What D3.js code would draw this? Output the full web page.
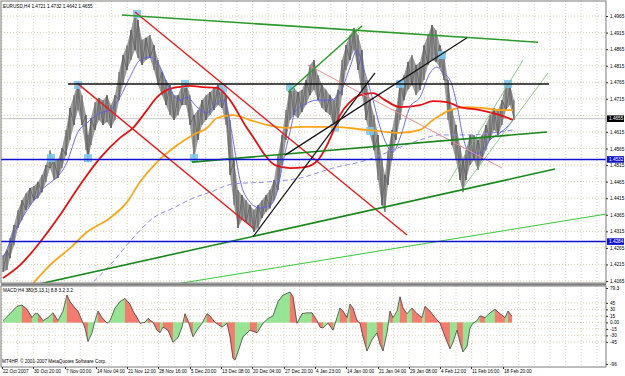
<!DOCTYPE html>
<html>
<head>
<meta charset="utf-8">
<script src="https://cdnjs.cloudflare.com/ajax/libs/d3/7.8.5/d3.min.js"></script>
<style>
body { margin: 0; background: #fff; }
svg { display: block; font-family: "Liberation Sans", Arial, sans-serif; }
</style>
</head>
<body>
<svg id="chart" width="625" height="376"></svg>
<script>
// EURUSD H4 chart, bar numbers are counted from the left edge of the chart
const priceBars = [
	3, 7, 10, 14, 18, 22, 26, 30, 34, 38,
	42, 46, 50, 54, 58, 62, 66, 70, 74, 78,
	82, 86, 88, 91, 95, 99, 103, 107, 111, 115,
	119, 123, 127, 131, 135, 138, 142, 146, 150, 154,
	158, 162, 166, 170, 174, 178, 182, 186, 190, 194,
	198, 202, 206, 210, 214, 218, 222, 226, 230, 234,
	238, 242, 246, 250, 254, 258, 262, 266, 270, 274,
	278, 282, 286, 290, 294, 298, 302, 306, 310, 314,
	318, 322, 326, 330, 334, 338, 342, 346, 350, 354,
	358, 362, 366, 370, 374, 378, 382, 385, 388, 392,
	396, 400, 404, 408, 412, 416, 420, 424, 428, 432,
	436, 440, 444, 448, 452, 456, 460, 463, 466, 470,
	474, 478, 482, 486, 490, 494, 498, 502, 506, 510,
	514];
const priceHigh = [
	1.4243, 1.4258, 1.4295, 1.4334, 1.4379, 1.4409, 1.4430, 1.4446, 1.4452, 1.4464,
	1.4485, 1.4515, 1.4560, 1.4530, 1.4530, 1.4566, 1.4621, 1.4687, 1.4726, 1.4766,
	1.4726, 1.4666, 1.4606, 1.4657, 1.4705, 1.4717, 1.4711, 1.4726, 1.4696, 1.4726,
	1.4796, 1.4847, 1.4877, 1.4923, 1.4977, 1.4953, 1.4893, 1.4899, 1.4908, 1.4877,
	1.4832, 1.4796, 1.4772, 1.4757, 1.4726, 1.4726, 1.4757, 1.4766, 1.4726, 1.4666,
	1.4681, 1.4711, 1.4726, 1.4735, 1.4748, 1.4757, 1.4754, 1.4726, 1.4651, 1.4530,
	1.4440, 1.4424, 1.4409, 1.4394, 1.4379, 1.4394, 1.4409, 1.4424, 1.4440, 1.4470,
	1.4545, 1.4606, 1.4681, 1.4757, 1.4748, 1.4735, 1.4742, 1.4772, 1.4817, 1.4832,
	1.4787, 1.4757, 1.4742, 1.4726, 1.4711, 1.4742, 1.4832, 1.4877, 1.4908, 1.4929,
	1.4908, 1.4862, 1.4772, 1.4711, 1.4666, 1.4606, 1.4530, 1.4485, 1.4560, 1.4621,
	1.4681, 1.4766, 1.4787, 1.4826, 1.4847, 1.4817, 1.4826, 1.4877, 1.4908, 1.4938,
	1.4923, 1.4877, 1.4847, 1.4772, 1.4681, 1.4636, 1.4575, 1.4530, 1.4560, 1.4606,
	1.4606, 1.4591, 1.4606, 1.4636, 1.4666, 1.4687, 1.4681, 1.4711, 1.4766, 1.4757,
	1.4711];
const priceLow = [
	1.4192, 1.4198, 1.4234, 1.4273, 1.4325, 1.4349, 1.4379, 1.4394, 1.4409, 1.4415,
	1.4433, 1.4464, 1.4506, 1.4470, 1.4476, 1.4506, 1.4545, 1.4591, 1.4636, 1.4681,
	1.4636, 1.4560, 1.4524, 1.4575, 1.4621, 1.4651, 1.4636, 1.4645, 1.4627, 1.4651,
	1.4711, 1.4757, 1.4802, 1.4832, 1.4862, 1.4838, 1.4817, 1.4832, 1.4838, 1.4802,
	1.4757, 1.4726, 1.4696, 1.4666, 1.4651, 1.4666, 1.4696, 1.4696, 1.4636, 1.4530,
	1.4591, 1.4636, 1.4651, 1.4666, 1.4681, 1.4696, 1.4687, 1.4636, 1.4485, 1.4394,
	1.4325, 1.4349, 1.4343, 1.4334, 1.4313, 1.4325, 1.4355, 1.4373, 1.4385, 1.4409,
	1.4440, 1.4515, 1.4591, 1.4651, 1.4666, 1.4657, 1.4675, 1.4696, 1.4726, 1.4742,
	1.4711, 1.4687, 1.4675, 1.4666, 1.4627, 1.4636, 1.4726, 1.4802, 1.4832, 1.4862,
	1.4802, 1.4726, 1.4651, 1.4606, 1.4560, 1.4470, 1.4394, 1.4373, 1.4455, 1.4530,
	1.4591, 1.4651, 1.4711, 1.4742, 1.4757, 1.4726, 1.4742, 1.4772, 1.4817, 1.4832,
	1.4826, 1.4808, 1.4772, 1.4651, 1.4575, 1.4530, 1.4470, 1.4433, 1.4470, 1.4515,
	1.4530, 1.4500, 1.4530, 1.4560, 1.4591, 1.4621, 1.4606, 1.4636, 1.4681, 1.4696,
	1.4651];

// moving averages
const fastMaBars = [3, 20, 40, 67, 78, 87, 100, 110, 120, 130, 140, 150, 160, 170, 180, 187, 197, 207, 213, 223, 228, 233, 240, 250, 260, 270, 277, 283, 290, 295, 307, 317, 330, 340, 350, 357, 363, 373, 380, 387, 393, 400, 410, 420, 430, 437, 443, 450, 457, 463, 470, 480, 490, 500, 507, 513];
const fastMaVals = [1.4234, 1.4343, 1.4433, 1.4524, 1.4615, 1.4642, 1.4672, 1.4681, 1.4720, 1.4781, 1.4832, 1.4841, 1.4811, 1.4742, 1.4711, 1.4720, 1.4690, 1.4672, 1.4690, 1.4711, 1.4675, 1.4591, 1.4470, 1.4403, 1.4385, 1.4394, 1.4433, 1.4524, 1.4615, 1.4675, 1.4702, 1.4711, 1.4711, 1.4732, 1.4811, 1.4862, 1.4811, 1.4711, 1.4630, 1.4575, 1.4554, 1.4597, 1.4690, 1.4720, 1.4793, 1.4811, 1.4793, 1.4772, 1.4696, 1.4600, 1.4551, 1.4551, 1.4591, 1.4612, 1.4630, 1.4651];
const redMaBars = [3, 20, 40, 60, 80, 100, 120, 133, 147, 157, 167, 180, 190, 200, 217, 230, 245, 255, 265, 275, 290, 305, 318, 327, 333, 340, 350, 360, 373, 385, 400, 420, 433, 447, 460, 480, 500, 513];
const redMaVals = [1.4174, 1.4213, 1.4282, 1.4364, 1.4455, 1.4536, 1.4597, 1.4627, 1.4681, 1.4720, 1.4742, 1.4751, 1.4754, 1.4751, 1.4748, 1.4711, 1.4636, 1.4591, 1.4545, 1.4515, 1.4506, 1.4509, 1.4530, 1.4575, 1.4615, 1.4666, 1.4705, 1.4726, 1.4732, 1.4711, 1.4690, 1.4696, 1.4708, 1.4705, 1.4690, 1.4681, 1.4666, 1.4651];
const orangeMaBars = [30, 50, 70, 87, 110, 127, 140, 157, 177, 193, 207, 217, 233, 250, 267, 287, 300, 333, 367, 400, 420, 433, 450, 467, 483, 500, 513];
const orangeMaVals = [1.4147, 1.4213, 1.4264, 1.4313, 1.4355, 1.4403, 1.4464, 1.4524, 1.4575, 1.4606, 1.4627, 1.4657, 1.4666, 1.4651, 1.4636, 1.4627, 1.4630, 1.4630, 1.4621, 1.4612, 1.4621, 1.4651, 1.4681, 1.4690, 1.4687, 1.4681, 1.4681];
const slowMaBars = [88, 110, 133, 153, 173, 193, 210, 233, 267, 300, 333, 367, 400, 420, 440, 467, 500, 513];
const slowMaVals = [1.4147, 1.4213, 1.4295, 1.4355, 1.4385, 1.4415, 1.4433, 1.4458, 1.4464, 1.4476, 1.4506, 1.4530, 1.4569, 1.4591, 1.4606, 1.4606, 1.4615, 1.4621];

// drawn objects: [bar, price] end points
const topLine = [[122, 1.4968], [538, 1.4886]];
const resistLine = [[68, 1.4760], [549, 1.4760]];
const redDown1 = [[78, 1.4760], [253, 1.4325]];
const redDown2 = [[135, 1.4977], [407, 1.4304]];
const salmonLine = [[308, 1.4817], [502, 1.4506]];
const greenShort = [[288, 1.4735], [362, 1.4935]];
const blackUp1 = [[253, 1.4298], [375, 1.4793]];
const blackUp2 = [[285, 1.4545], [467, 1.4899]];
const greenLow = [[35, 1.4153], [555, 1.4503]];
const greenMid = [[192, 1.4524], [547, 1.4615]];
const limeLine = [[170, 1.4153], [606, 1.4367]];
const channelA = [[448, 1.4461], [523, 1.4832]];
const channelB = [[463, 1.4446], [548, 1.4793]];
const levels = [1.4532, 1.4284];
const lastPrice = 1.4655;

const fractalBars = [51, 78, 88, 137, 185, 194, 223, 290, 335, 370, 400, 442, 508];
const fractalPrices = [1.4536, 1.4757, 1.4536, 1.4971, 1.4760, 1.4536, 1.4748, 1.4751, 1.4628, 1.4618, 1.4760, 1.4847, 1.4760];

// MACD histogram
const macdBars = [
	3, 10, 17, 22, 27, 32, 35, 38, 43, 48,
	53, 58, 63, 67, 70, 75, 78, 82, 85, 88,
	92, 95, 98, 102, 107, 110, 115, 120, 125, 130,
	133, 137, 140, 145, 148, 153, 157, 160, 163, 168,
	173, 178, 182, 185, 188, 193, 197, 202, 207, 210,
	215, 222, 227, 230, 233, 235, 238, 243, 250, 257,
	263, 268, 273, 278, 283, 290, 293, 297, 302, 307,
	312, 317, 320, 323, 328, 333, 337, 340, 343, 347,
	350, 353, 357, 360, 363, 367, 372, 377, 380, 383,
	387, 390, 393, 397, 400, 403, 407, 412, 417, 422,
	425, 430, 435, 440, 445, 450, 453, 457, 460, 463,
	467, 470, 473, 477, 480, 485, 490, 495, 500, 505,
	508, 512];
const macdVals = [
	4, 20, 37, 40, 30, 11, 20, 20, 4, 11,
	22, 4, 26, 63, 48, 33, 26, 4, -13, -44,
	-24, 4, 26, 11, -2, 4, 33, 48, 55, 42,
	26, 11, -2, 0, 9, 0, -18, -24, -11, -18,
	-46, -35, -11, 20, 4, -33, -18, -2, 20, 15,
	0, -11, -2, -33, -83, -87, -68, -33, -18, -24,
	-2, 9, 15, 48, 63, 70, 59, -2, 20, 22,
	22, 4, -11, -13, -2, -18, 11, 33, 26, 11,
	42, 33, 4, -2, -33, -66, -40, -24, -50, -66,
	-24, 26, 11, 26, 59, 33, 20, 33, 20, 11,
	37, 26, 11, -2, -33, -61, -46, -18, -46, -68,
	-55, -13, -2, 4, 15, 11, 22, 30, 20, 11,
	26, 14];

const priceTicks = d3.range(17).map(i => +(1.4165 + i * 0.005).toFixed(4));
const macdTicks = [79.3, 45, 30, 15, 0, -15, -30, -45, -96];
const dateBars = [2, 33, 65, 96, 127, 158, 190, 221, 252, 284, 315, 346, 378, 409, 440, 471, 503];
const dateLabels = ["22 Oct 2007", "30 Oct 20:00", "7 Nov 00:00", "14 Nov 04:00", "21 Nov 12:00", "28 Nov 16:00", "5 Dec 20:00", "13 Dec 08:00", "20 Dec 04:00", "27 Dec 20:00", "4 Jan 23:00", "14 Jan 00:00", "21 Jan 04:00", "29 Jan 08:00", "4 Feb 12:00", "11 Feb 16:00", "18 Feb 20:00"];

const chart = d3.select("#chart");
const left = 1, right = 606;
const mainTop = 1, mainBottom = 283, macdTop = 286, macdBottom = 367;
const gridColor = "#d6c7a6";
const fontSize = "4.7px";

const x = d3.scaleLinear().domain([0, 606]).range([0, 606]);
const y = d3.scaleLinear().domain([1.4165, 1.4965]).range([281, 16]);
const ym = d3.scaleLinear().domain([-96, 79.3]).range([364, 288]);

const defs = chart.append("defs");
defs.append("clipPath").attr("id", "clipMain")
	.append("rect").attr("x", left).attr("y", mainTop)
	.attr("width", right - left).attr("height", mainBottom - mainTop);
defs.append("clipPath").attr("id", "clipMacd")
	.append("rect").attr("x", left).attr("y", macdTop)
	.attr("width", right - left).attr("height", macdBottom - macdTop);

// grid
const grid = chart.append("g")
	.attr("stroke", gridColor)
	.attr("stroke-width", 0.8)
	.attr("stroke-dasharray", "1,2");
const gridX = d3.range(dateBars[0], right, (dateBars[16] - dateBars[0]) / 32);
grid.selectAll("line.vx")
	.data(gridX)
	.enter()
	.append("line")
	.attr("x1", d => x(d)).attr("x2", d => x(d))
	.attr("y1", mainTop).attr("y2", mainBottom);
grid.selectAll("line.vm")
	.data(gridX)
	.enter()
	.append("line")
	.attr("x1", d => x(d)).attr("x2", d => x(d))
	.attr("y1", macdTop).attr("y2", macdBottom);
grid.selectAll("line.hy")
	.data(priceTicks)
	.enter()
	.append("line")
	.attr("x1", left).attr("x2", right)
	.attr("y1", d => y(d)).attr("y2", d => y(d));
grid.selectAll("line.hm")
	.data(macdTicks.slice(1, -1))
	.enter()
	.append("line")
	.attr("x1", left).attr("x2", right)
	.attr("y1", d => ym(d)).attr("y2", d => ym(d));

// main panel
const main = chart.append("g").attr("clip-path", "url(#clipMain)");

main.append("line")
	.attr("x1", left).attr("x2", right)
	.attr("y1", y(lastPrice)).attr("y2", y(lastPrice))
	.attr("stroke", "#c4c4c4")
	.attr("stroke-width", 1);

const priceData = priceBars.map((b, i) => ({ b: b, hi: priceHigh[i], lo: priceLow[i] }));
main.append("path")
	.datum(priceData)
	.attr("d", d3.area().x(d => x(d.b)).y0(d => y(d.lo)).y1(d => y(d.hi)))
	.attr("fill", "#9a9a9a");
// bar texture: each sample's range, then a zig-zag between highs and lows
main.selectAll("line.bar")
	.data(priceData)
	.enter()
	.append("line")
	.attr("x1", d => x(d.b)).attr("x2", d => x(d.b))
	.attr("y1", d => y(d.hi)).attr("y2", d => y(d.lo))
	.attr("stroke", "#6a6a6a")
	.attr("stroke-width", 1.2);
main.append("path")
	.datum(priceData)
	.attr("d", d3.line().x(d => x(d.b)).y((d, i) => y(i % 2 ? d.hi : d.lo)))
	.attr("fill", "none")
	.attr("stroke", "#5e5e5e")
	.attr("stroke-width", 0.8);

main.selectAll("rect.fractal")
	.data(fractalBars)
	.enter()
	.append("rect")
	.attr("x", d => x(d) - 4)
	.attr("y", (d, i) => y(fractalPrices[i]) - 4)
	.attr("width", 8)
	.attr("height", 8)
	.attr("fill", "#80c8f0")
	.attr("opacity", 0.9);

function drawSeries(bars, vals, color, width, dash) {
	const pts = bars.map((b, i) => [b, vals[i]]);
	main.append("path")
		.datum(pts)
		.attr("d", d3.line().x(d => x(d[0])).y(d => y(d[1])).curve(d3.curveMonotoneX))
		.attr("fill", "none")
		.attr("stroke", color)
		.attr("stroke-width", width)
		.attr("stroke-dasharray", dash || null);
}

drawSeries(slowMaBars, slowMaVals, "#8a8cf0", 1, "5,3");
drawSeries(orangeMaBars, orangeMaVals, "#ffa514", 1.8);
drawSeries(redMaBars, redMaVals, "#e81010", 1.8);
drawSeries(fastMaBars, fastMaVals, "#5a5cf5", 0.9);

function drawSeg(seg, color, width) {
	main.append("line")
		.attr("x1", x(seg[0][0])).attr("y1", y(seg[0][1]))
		.attr("x2", x(seg[1][0])).attr("y2", y(seg[1][1]))
		.attr("stroke", color)
		.attr("stroke-width", width);
}

drawSeg(limeLine, "#38c838", 1);
drawSeg(channelA, "#74be74", 0.8);
drawSeg(channelB, "#74be74", 0.8);
drawSeg(salmonLine, "#f08a8a", 1);
drawSeg(redDown1, "#f01818", 1.4);
drawSeg(redDown2, "#f01818", 1.4);
drawSeg(greenLow, "#17871a", 1.6);
drawSeg(greenMid, "#17871a", 1.6);
drawSeg(topLine, "#2a9a2a", 1.5);
drawSeg(greenShort, "#28a028", 1.5);
drawSeg(blackUp1, "#111", 1.2);
drawSeg(blackUp2, "#111", 1.2);
drawSeg(resistLine, "#111", 1.5);

main.selectAll("line.level")
	.data(levels)
	.enter()
	.append("line")
	.attr("x1", left).attr("x2", right)
	.attr("y1", d => y(d)).attr("y2", d => y(d))
	.attr("stroke", "#1010d0")
	.attr("stroke-width", 1.5);

// MACD panel
const macd = chart.append("g").attr("clip-path", "url(#clipMacd)");
const macdData = macdBars.map((b, i) => ({ b: b, v: macdVals[i] }));
macd.selectAll("path.seg")
	.data(d3.pairs(macdData))
	.enter()
	.append("path")
	.attr("d", p => "M" + x(p[0].b) + "," + ym(0) + "L" + x(p[0].b) + "," + ym(p[0].v) +
		"L" + x(p[1].b) + "," + ym(p[1].v) + "L" + x(p[1].b) + "," + ym(0) + "Z")
	.attr("fill", p => p[1].v >= p[0].v ? "#95e595" : "#f57a70")
	.attr("stroke", p => p[1].v >= p[0].v ? "#95e595" : "#f57a70")
	.attr("stroke-width", 0.3);
macd.append("path")
	.datum(macdData)
	.attr("d", d3.line().x(d => x(d.b)).y(d => ym(d.v)))
	.attr("fill", "none")
	.attr("stroke", "#333")
	.attr("stroke-width", 0.7);

// frames
const frame = chart.append("g").attr("fill", "none").attr("stroke", "#7a7a7a");
frame.append("rect").attr("x", left).attr("y", mainTop)
	.attr("width", right - left).attr("height", mainBottom - mainTop);
frame.append("rect").attr("x", left).attr("y", macdTop)
	.attr("width", right - left).attr("height", macdBottom - macdTop);
frame.append("line").attr("x1", left).attr("x2", right)
	.attr("y1", mainBottom + 1.5).attr("y2", mainBottom + 1.5)
	.attr("stroke-width", 2);

// axes; the scale label hidden behind the last price box is left out
const shownPriceTicks = priceTicks.filter(t => Math.abs(y(t) - y(lastPrice)) > 4);
const yAxis = chart.append("g")
	.attr("transform", "translate(" + right + ",0)")
	.call(d3.axisRight(y).tickValues(shownPriceTicks).tickFormat(d3.format(".4f")).tickSize(2).tickSizeOuter(0).tickPadding(2));
const macdAxis = chart.append("g")
	.attr("transform", "translate(" + right + ",0)")
	.call(d3.axisRight(ym).tickValues(macdTicks).tickFormat(d => d === 0 ? "0.00" : d).tickSize(2).tickSizeOuter(0).tickPadding(2));
const xAxis = chart.append("g")
	.attr("transform", "translate(0," + macdBottom + ")")
	.call(d3.axisBottom(x).tickValues(dateBars).tickFormat((d, i) => dateLabels[i]).tickSize(2).tickSizeOuter(0).tickPadding(1));
[yAxis, macdAxis, xAxis].forEach(g => {
	g.select(".domain").remove();
	g.selectAll("text").attr("font-size", fontSize).attr("fill", "#000").attr("font-family", "Liberation Sans, Arial, sans-serif");
	g.selectAll("line").attr("stroke", "#333");
});
xAxis.selectAll("text").attr("text-anchor", "start").attr("x", 0.5);

// price boxes on the scale
function priceBox(v, bg) {
	const g = chart.append("g").attr("transform", "translate(" + (right + 1) + "," + y(v) + ")");
	g.append("rect").attr("x", 0).attr("y", -3.3).attr("width", 17).attr("height", 6.6).attr("fill", bg);
	g.append("text").attr("x", 2).attr("y", 1.7)
		.attr("font-size", fontSize).attr("fill", "#fff")
		.text(d3.format(".4f")(v));
}
priceBox(lastPrice, "#000");
levels.forEach(v => priceBox(v, "#1010d0"));

// labels
chart.append("text").attr("x", 3).attr("y", 7.5)
	.attr("font-size", fontSize)
	.text("EURUSD,H4  1.4721 1.4732 1.4642 1.4655");
chart.append("text").attr("x", 3).attr("y", 292)
	.attr("font-size", fontSize)
	.text("MACD H4 380(5,13,1) 8.8 3.2 3.2");
chart.append("text").attr("x", 2).attr("y", 363)
	.attr("font-size", fontSize)
	.text("MT4HP, © 2001-2007 MetaQuotes Software Corp.");
</script>
</body>
</html>
